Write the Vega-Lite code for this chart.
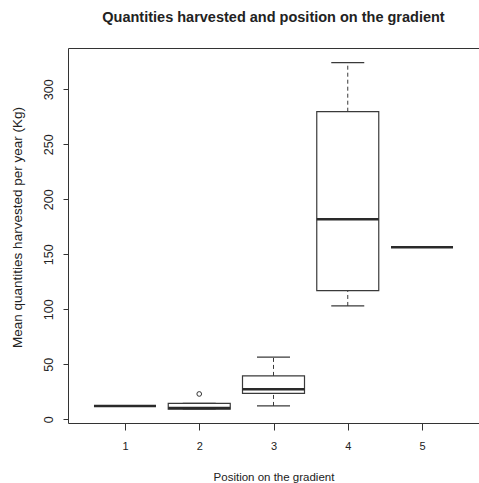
{
  "$schema": "https://vega.github.io/schema/vega-lite/v6.json",
  "width": 411,
  "height": 375,
  "autosize": {"type": "none"},
  "padding": {"left": 68, "top": 48, "right": 0, "bottom": 60},
  "background": "white",
  "title": {
    "text": "Quantities harvested and position on the gradient",
    "font": "Liberation Sans",
    "fontSize": 14.5,
    "fontWeight": "bold",
    "color": "#222222",
    "anchor": "middle",
    "baseline": "alphabetic",
    "offset": 12
  },
  "datasets": {
    "stats": [
      {"pos": 1, "lower": 12.1, "q1": 12.1, "median": 12.1, "q3": 12.1, "upper": 12.1},
      {"pos": 2, "lower": 9.1, "q1": 9.1, "median": 10.3, "q3": 14.5, "upper": 14.5},
      {"pos": 3, "lower": 12.1, "q1": 23.6, "median": 27.3, "q3": 39.4, "upper": 56.4},
      {"pos": 4, "lower": 103, "q1": 116.9, "median": 181.8, "q3": 279.6, "upper": 324.2},
      {"pos": 5, "lower": 156.4, "q1": 156.4, "median": 156.4, "q3": 156.4, "upper": 156.4}
    ],
    "outliers": [
      {"pos": 2, "value": 23}
    ]
  },
  "config": {
    "view": {"stroke": null},
    "axis": {
      "grid": false,
      "labelFont": "Liberation Sans",
      "titleFont": "Liberation Sans",
      "labelFontSize": 11,
      "titleFontSize": 11.5,
      "titleFontWeight": "normal",
      "domainColor": "#333333",
      "tickColor": "#333333",
      "labelColor": "#222222",
      "titleColor": "#222222"
    }
  },
  "resolve": {"axis": {"x": "independent", "y": "independent"}},
  "layer": [
    {
      "data": {"name": "stats"},
      "mark": {"type": "rule", "color": "#3a3a3a", "strokeDash": [4, 3]},
      "encoding": {
        "x": {
          "field": "pos", "type": "quantitative",
          "scale": {"domain": [0.3, 5.7], "nice": false, "zero": false},
          "axis": {
            "orient": "bottom",
            "values": [1, 2, 3, 4, 5],
            "format": "d",
            "tickSize": 7,
            "labelPadding": 10,
            "labelBaseline": "top",
            "labelFlush": false,
            "title": "Position on the gradient",
            "titleY": 54,
            "titleBaseline": "middle"
          }
        },
        "y": {
          "field": "lower", "type": "quantitative",
          "scale": {"domain": [-3.4, 337.5], "nice": false, "zero": false},
          "axis": {
            "values": [0, 50, 100, 150, 200, 250, 300],
            "tickSize": 5,
            "labelAngle": 270,
            "labelAlign": "center",
            "labelBaseline": "bottom",
            "labelPadding": 8,
            "labelFontSize": 12.5,
            "labelFlush": false,
            "title": "Mean quantities harvested per year (Kg)",
            "titleFontSize": 13.5,
            "titleX": -51,
            "titleY": 179,
            "titleAngle": 270,
            "titleBaseline": "middle"
          }
        },
        "y2": {"field": "q1"}
      }
    },
    {
      "data": {"name": "stats"},
      "mark": {"type": "rule", "color": "#3a3a3a", "strokeDash": [4, 3]},
      "encoding": {
        "x": {"field": "pos", "type": "quantitative", "axis": null},
        "y": {"field": "q3", "type": "quantitative", "axis": null},
        "y2": {"field": "upper"}
      }
    },
    {
      "data": {"name": "stats"},
      "mark": {"type": "tick", "orient": "horizontal", "size": 33, "thickness": 1.2, "color": "#3a3a3a", "opacity": 1},
      "encoding": {
        "x": {"field": "pos", "type": "quantitative", "axis": null},
        "y": {"field": "upper", "type": "quantitative", "axis": null}
      }
    },
    {
      "data": {"name": "stats"},
      "mark": {"type": "tick", "orient": "horizontal", "size": 33, "thickness": 1.2, "color": "#3a3a3a", "opacity": 1},
      "encoding": {
        "x": {"field": "pos", "type": "quantitative", "axis": null},
        "y": {"field": "lower", "type": "quantitative", "axis": null}
      }
    },
    {
      "data": {"name": "stats"},
      "mark": {"type": "bar", "width": 62, "fill": "white", "stroke": "#3a3a3a", "strokeWidth": 1.2},
      "encoding": {
        "x": {"field": "pos", "type": "quantitative", "axis": null},
        "y": {"field": "q1", "type": "quantitative", "axis": null},
        "y2": {"field": "q3"}
      }
    },
    {
      "data": {"name": "stats"},
      "mark": {"type": "tick", "orient": "horizontal", "size": 62, "thickness": 2.5, "color": "#2a2a2a", "opacity": 1},
      "encoding": {
        "x": {"field": "pos", "type": "quantitative", "axis": null},
        "y": {"field": "median", "type": "quantitative", "axis": null}
      }
    },
    {
      "data": {"name": "outliers"},
      "mark": {"type": "point", "shape": "circle", "filled": false, "size": 22, "color": "#333333", "strokeWidth": 1, "opacity": 1},
      "encoding": {
        "x": {
          "field": "pos", "type": "quantitative",
          "axis": {"orient": "top", "labels": false, "ticks": false, "domain": true, "title": null}
        },
        "y": {"field": "value", "type": "quantitative", "axis": null}
      }
    }
  ]
}
